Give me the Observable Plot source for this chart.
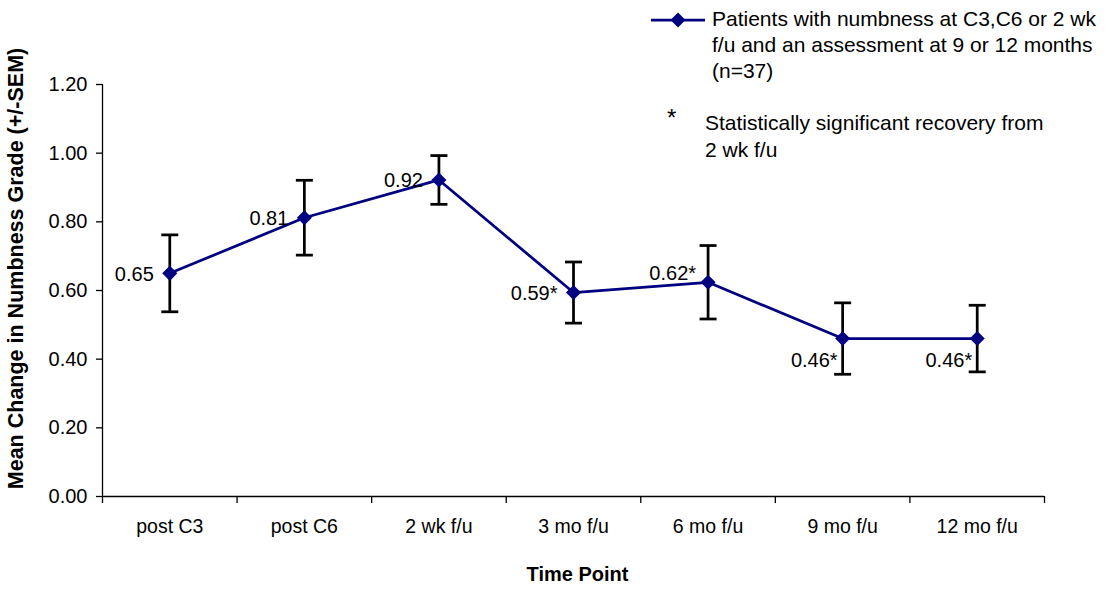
<!DOCTYPE html>
<html>
<head>
<meta charset="utf-8">
<script src="https://cdn.jsdelivr.net/npm/d3@7"></script>
<script src="https://cdn.jsdelivr.net/npm/@observablehq/plot@0.6"></script>
<style>
  html, body { margin: 0; padding: 0; background: white; }
  #wrap { position: relative; width: 1107px; height: 590px; font-family: "Liberation Sans", Arial, sans-serif; color: black; }
  #legend div { position: absolute; white-space: nowrap; }
</style>
</head>
<body>
<div id="wrap">
  <div id="chart"></div>
  <div id="legend">
    <svg style="position:absolute; left:651px; top:12px" width="56" height="16">
      <line x1="0" y1="8" x2="54" y2="8" stroke="#000080" stroke-width="2.75"></line>
      <path d="M27,0.5 L34.5,8 L27,15.5 L19.5,8 Z" fill="#000080"></path>
    </svg>
    <div id="leg1" style="left:712px; top:6px; font-size:21px; line-height:26px;"></div>
    <div id="legStar" style="left:667px; top:104px; font-size:24px; line-height:27px;">*</div>
    <div id="leg2" style="left:705px; top:109px; font-size:21px; line-height:27px;"></div>
  </div>
</div>
<script>
// ---- data ----
const categories = ["post C3", "post C6", "2 wk f/u", "3 mo f/u", "6 mo f/u", "9 mo f/u", "12 mo f/u"];
const means = [0.65, 0.812, 0.922, 0.594, 0.624, 0.46, 0.46];
const sems = [0.112, 0.109, 0.071, 0.089, 0.107, 0.104, 0.097];
const significant = [false, false, false, true, true, true, true];
const yTicks = [0, 0.2, 0.4, 0.6, 0.8, 1.0, 1.2];
const seriesLabel = ["Patients with numbness at C3,C6 or 2 wk", "f/u and an assessment at 9 or 12 months", "(n=37)"];
const sigLabel = ["Statistically significant recovery from", "2 wk f/u"];
const xTitle = "Time Point";
const yTitle = "Mean Change in Numbness Grade (+/-SEM)";

document.getElementById("leg1").innerHTML = seriesLabel.join("<br>");
document.getElementById("leg2").innerHTML = sigLabel.join("<br>");

const data = categories.map((c, i) => ({
  i, cat: c, mean: means[i],
  lo: means[i] - sems[i], hi: means[i] + sems[i],
  label: means[i].toFixed(2) + (significant[i] ? "*" : "")
}));

const navy = "#000080";
const capSymbol = { draw(ctx) { ctx.moveTo(-8.5, 0); ctx.lineTo(8.5, 0); } };
const font = "Liberation Sans, Arial, sans-serif";

const leftGroup = new Set([0, 1, 2, 3]);
const upperGroup = new Set([4]);
const lowerGroup = new Set([5, 6]);

const chart = Plot.plot({
  width: 1107,
  height: 590,
  marginLeft: 102,
  marginRight: 63,
  marginTop: 84,
  marginBottom: 94,
  x: { type: "linear", domain: [-0.5, categories.length - 0.5] },
  y: { domain: [0, 1.2] },
  style: { fontFamily: font, fontSize: "19px", color: "black", background: "white", overflow: "visible" },
  marks: [
    Plot.axisY({ ticks: yTicks, tickFormat: d => d.toFixed(2), tickSize: 6, tickPadding: 9, label: null, fontSize: 20, strokeWidth: 1.3 }),
    Plot.axisX({ ticks: d3.range(-0.5, categories.length, 1), tickFormat: () => "", tickSize: 7, label: null, strokeWidth: 1.3 }),
    Plot.axisX({ ticks: d3.range(categories.length), tickFormat: i => categories[i], tickSize: 0, tickPadding: 23, label: null, fontSize: 19.5 }),
    Plot.ruleX([-0.5], { stroke: "black", strokeWidth: 1.3 }),
    Plot.ruleY([0], { stroke: "black", strokeWidth: 1.3 }),
    Plot.line(data, { x: "i", y: "mean", stroke: navy, strokeWidth: 2.75 }),
    Plot.ruleX(data, { x: "i", y1: "lo", y2: "hi", stroke: "black", strokeWidth: 2.75 }),
    Plot.dot(data, { x: "i", y: "lo", symbol: capSymbol, stroke: "black", strokeWidth: 2.75, r: 1 }),
    Plot.dot(data, { x: "i", y: "hi", symbol: capSymbol, stroke: "black", strokeWidth: 2.75, r: 1 }),
    Plot.dot(data, { x: "i", y: "mean", symbol: "diamond2", fill: navy, r: 6.8 }),
    Plot.text(data.filter(d => leftGroup.has(d.i)), { x: "i", y: "mean", text: "label", textAnchor: "end", dx: -16, dy: 1, fontSize: 20 }),
    Plot.text(data.filter(d => upperGroup.has(d.i)), { x: "i", y: "mean", text: "label", textAnchor: "end", dx: -12, dy: -9, fontSize: 20 }),
    Plot.text(data.filter(d => lowerGroup.has(d.i)), { x: "i", y: "mean", text: "label", textAnchor: "end", dx: -5, dy: 22, fontSize: 20 }),
    Plot.text([xTitle], { frameAnchor: "bottom", textAnchor: "middle", dx: 4, dy: 84, fontWeight: "bold", fontSize: 20 }),
    Plot.text([yTitle], { frameAnchor: "left", textAnchor: "middle", rotate: -90, dx: -86, dy: -22, fontWeight: "bold", fontSize: 21.5 })
  ]
});
document.getElementById("chart").appendChild(chart);
</script>
</body>
</html>
